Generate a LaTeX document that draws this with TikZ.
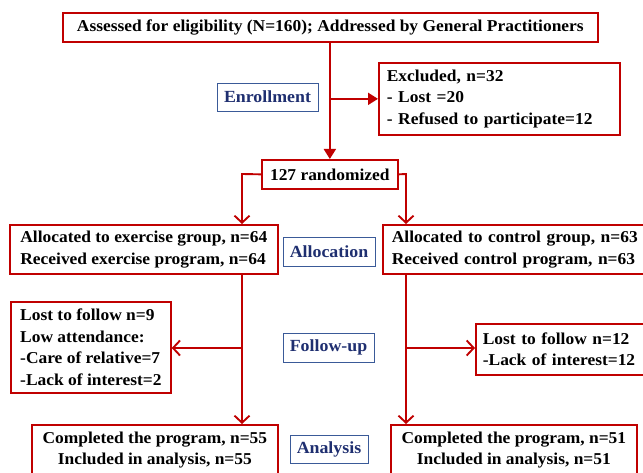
\documentclass[tikz,border=0pt]{standalone}
\usepackage{fontspec}
\setmainfont{Liberation Serif}[FakeStretch=1.05]
\usetikzlibrary{positioning,arrows.meta,calc}
\definecolor{flowred}{HTML}{C00000}
\definecolor{phaseblue}{HTML}{1F2F70}
\definecolor{phaseline}{HTML}{3A5A98}

\begin{document}
\begin{tikzpicture}[x=1pt,y=-1pt,
    every node/.style={font=\fontsize{16.6}{21.5}\selectfont\bfseries},
    box/.style={draw=flowred,line width=1.7pt,inner sep=0pt,anchor=north west},
    phase/.style={draw=phaseline,line width=0.9pt,text=phaseblue,inner sep=0pt,
      font=\fontsize{17}{19}\selectfont\bfseries},
    flow/.style={draw=flowred,line width=1.9pt},
    fill arrow/.style={flow,-{Triangle[length=10pt,width=12pt]}},
    open arrow/.style={flow,-{Straight Barb[length=7pt,width=15pt,line width=1.9pt]}}]
  \useasboundingbox (0,0) rectangle (643,473);
  % enrollment
  \node[box,minimum width=535pt,minimum height=29pt] (assess) at (62,12)
    {Assessed for eligibility (N=160); Addressed by General Practitioners};
  \node[box,minimum width=241pt,minimum height=72pt,text width=225pt,align=left] (excl) at (378,62)
    {Excluded, n=32\\- Lost =20\\- Refused to participate=12};
  \node[phase,minimum width=101pt,minimum height=28pt] (enrol) at (267.5,97) {Enrollment};
  \node[box,minimum width=136pt,minimum height=29pt] (rand) at (261,159) {127 randomized};
  \draw[fill arrow] (assess.south -| rand.north) -- (rand.north);
  \draw[fill arrow] (rand.north |- excl.west) -- (excl.west);
  % allocation
  \node[box,minimum width=268pt,minimum height=49pt,align=left] (allocEx) at (9,224)
    {Allocated to exercise group, n=64\\Received exercise program, n=64};
  \node[box,minimum width=300pt,minimum height=49pt,text width=282pt,align=left] (allocCo) at (382,224)
    {Allocated to control group, n=63\\Received control program, n=63};
  \node[phase,minimum width=92pt,minimum height=29pt] (alloc) at (329,252) {Allocation};
  \coordinate (splitL) at (242,174);
  \coordinate (splitR) at (406,174);
  \draw[open arrow] (rand.west) -- (splitL) -- (splitL |- allocEx.north);
  \draw[open arrow] (rand.east) -- (splitR) -- (splitR |- allocCo.north);
  % follow-up
  \node[box,minimum width=160pt,minimum height=91pt,align=left] (lostEx) at (10,301)
    {Lost to follow n=9\\Low attendance:\\-Care of relative=7\\-Lack of interest=2};
  \node[box,minimum width=200pt,minimum height=51pt,text width=186pt,align=left] (lostCo) at (475,323)
    {Lost to follow n=12\\-Lack of interest=12};
  \node[phase,minimum width=91pt,minimum height=29pt] (follow) at (328.5,347.5) {Follow-up};
  % analysis
  \node[box,minimum width=246pt,minimum height=50pt,align=center] (doneEx) at (31,424)
    {Completed the program, n=55\\Included in analysis, n=55};
  \node[box,minimum width=246pt,minimum height=50pt,align=center] (doneCo) at (390,424)
    {Completed the program, n=51\\Included in analysis, n=51};
  \node[phase,minimum width=78pt,minimum height=28pt] (analysis) at (329,449) {Analysis};
  \draw[open arrow] (splitL |- allocEx.south) -- (splitL |- doneEx.north);
  \draw[open arrow] (splitR |- allocCo.south) -- (splitR |- doneCo.north);
  \coordinate (lostY) at (0,348);
  \draw[open arrow] (splitL |- lostY) -- (lostEx.east |- lostY);
  \draw[open arrow] (splitR |- lostY) -- (lostCo.west |- lostY);
\end{tikzpicture}
\end{document}
